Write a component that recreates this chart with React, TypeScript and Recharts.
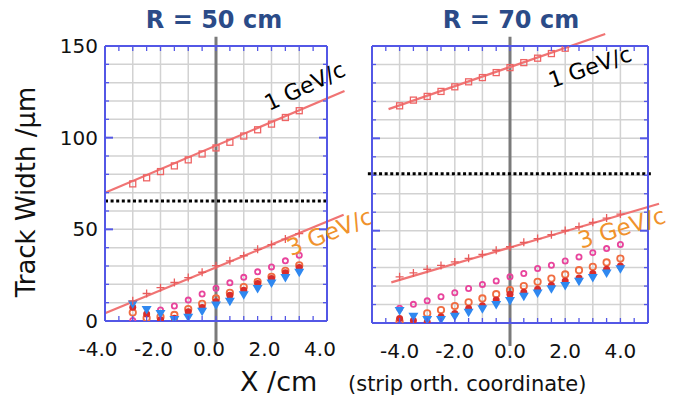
import React from 'react';
import {
  ScatterChart,
  Scatter,
  XAxis,
  YAxis,
  CartesianGrid,
  ReferenceLine,
  ReferenceDot
} from 'recharts';

// strip orth. coordinate (cm), one point every 0.5 cm
const xLeft = [-3, -2.5, -2, -1.5, -1, -0.5, 0, 0.5, 1, 1.5, 2, 2.5, 3];
const xRight = [-4, -3.5, -3, -2.5, -2, -1.5, -1, -0.5, 0, 0.5, 1, 1.5, 2, 2.5, 3, 3.5, 4];
const xRight1GeV = [-4, -3.5, -3, -2.5, -2, -1.5, -1, -0.5, 0, 0.5, 1, 1.5, 2];

// R = 50 cm
const left1GeV = [74.8, 78.1, 81.5, 84.6, 87.9, 91.1, 94.4, 97.5, 100.9, 104.3, 107.4, 111.0, 114.7];
const left3GeV = [11.0, 15.0, 18.2, 21.0, 23.7, 26.6, 30.2, 32.8, 35.6, 39.1, 41.7, 44.7, 47.7];
const leftPink = [0.3, null, 6.0, 8.2, 11.4, 14.7, 17.9, 20.8, 23.8, 26.8, 29.5, 32.8, 35.9];
const leftOrange = [4.6, 1.6, 2.2, 3.3, 6.5, 9.4, 12.3, 15.4, 18.5, 21.4, 24.1, 27.4, 30.4];
const leftRed = [7.5, 3.8, 0.7, 1.5, 5.1, 7.4, 10.5, 14.1, 16.8, 20.5, 23.2, 26.3, 29.2];
const leftBlue = [9.0, 6.0, 3.8, 0.6, 1.8, 5.1, 8.5, 10.5, 14.1, 17.4, 20.5, 23.5, 26.3];

// R = 70 cm
const right1GeV = [117.6, 120.7, 122.7, 125.4, 127.9, 130.6, 132.9, 135.6, 138.3, 141.0, 143.4, 145.9, 148.8];
const right3GeV = [25.0, 27.1, 29.1, 31.2, 33.1, 35.0, 37.2, 39.4, 41.3, 43.7, 45.7, 47.8, 50.1, 52.2, 54.5, 56.8, 59.0];
const rightPink = [8.0, 10.1, 12.0, 14.2, 16.4, 18.7, 20.9, 22.8, 25.0, 26.8, 29.5, 31.3, 33.6, 35.8, 38.1, 40.3, 42.5];
const rightOrange = [0.7, null, 5.2, 7.0, 9.2, 11.2, 13.3, 15.6, 17.8, 20.0, 22.3, 24.1, 26.3, 28.6, 30.4, 32.8, 34.9];
const rightRed = [2.5, 1.3, 0.6, 3.4, 5.2, 7.8, 9.3, 12.5, 15.6, 16.6, 18.3, 20.5, 22.7, 24.4, 26.8, 29.1, 30.9];
const rightBlue = [6.5, 3.4, 1.6, 1.6, 3.4, 5.6, 7.4, 9.7, 11.9, 14.2, 16.0, 18.3, 20.1, 22.3, 24.4, 26.8, 29.1];

// straight-line fits (end points)
const leftFit1 = [{ x: -4, y: 69.9 }, { x: 4.63, y: 125.5 }];
const leftFit3 = [{ x: -4, y: 4.2 }, { x: 4.6, y: 58 }];
const rightFit1 = [{ x: -4.4, y: 115.8 }, { x: 3.45, y: 156.5 }];
const rightFit3 = [{ x: -4.3, y: 22 }, { x: 5.4, y: 64.6 }];

// dotted threshold levels
const leftLevel = 65.4;
const rightLevel = 80.8;

// ticks
const xTickLabels = [-4, -2, 0, 2, 4];
const yTickLabels = [0, 50, 100, 150];
const yMajor = [50, 100];
const yMinor = [0, 10, 20, 30, 40, 50, 60, 70, 80, 90, 100, 110, 120, 130, 140, 150];
const leftGridX = [-3, -2, -1, 0, 1, 2, 3];
const rightGridX = [-4, -3, -2, -1, 0, 1, 2, 3, 4];
const leftMinorX = [-3.5, -3, -2.5, -2, -1.5, -1, -0.5, 0, 0.5, 1, 1.5, 2, 2.5, 3, 3.5];
const rightMinorX = [-4.5, -4, -3.5, -3, -2.5, -2, -1.5, -1, -0.5, 0, 0.5, 1, 1.5, 2, 2.5, 3, 3.5, 4, 4.5];
const leftBottomTicks = [-4, ...leftMinorX, 4];
const rightBottomTicks = [-5, ...rightMinorX, 5];

const toPts = (xs: number[], ys: (number | null)[]) =>
  xs.map((x, i) => ({ x, y: ys[i] })).filter((p) => p.y != null);

const FIT = '#f07474';
const FRAME = '#5357e6';
const FONT = '"DejaVu Sans", Verdana, sans-serif';

const Square = (p: any) => (
  <rect x={p.cx - 3} y={p.cy - 3} width={6} height={6} fill="none" stroke="#ee6464" strokeWidth={1.3} />
);
const Plus = (p: any) => (
  <path d={`M${p.cx - 4},${p.cy}H${p.cx + 4}M${p.cx},${p.cy - 4}V${p.cy + 4}`} stroke="#e85c5c" strokeWidth={1.3} />
);
const ring = (color: string, r: number) => (p: any) => (
  <circle cx={p.cx} cy={p.cy} r={r} fill="none" stroke={color} strokeWidth={1.8} />
);
const RedDot = (p: any) => <circle cx={p.cx} cy={p.cy} r={3.5} fill="#d82c2c" />;
const DownTri = (p: any) => (
  <path d={`M${p.cx - 5},${p.cy - 4}L${p.cx + 5},${p.cy - 4}L${p.cx},${p.cy + 4.5}Z`} fill="#2f88f0" />
);

const rotText = (text: string, color: string, angle: number, size: number) => (p: any) => (
  <text
    x={p.cx}
    y={p.cy}
    transform={`rotate(${angle} ${p.cx} ${p.cy})`}
    textAnchor="middle"
    dominantBaseline="central"
    fill={color}
    fontSize={size}
    fontFamily={FONT}
  >
    {text}
  </text>
);

// tick renderers: inward blue tick marks, labels only where wanted
const bottomTick = (labels: number[], dx: number) => (props: any) => {
  const { x, y, payload } = props;
  const v = payload.value;
  return (
    <g>
      <line x1={x} x2={x} y1={y} y2={y - 5} stroke={FRAME} strokeWidth={1.3} />
      {labels.includes(v) && (
        <text x={x + dx} y={y + 35} textAnchor="middle" fill="#111" fontSize={20} fontFamily={FONT}>
          {v.toFixed(1)}
        </text>
      )}
    </g>
  );
};
const topTick = (props: any) => {
  const { x, y } = props;
  return <line x1={x} x2={x} y1={y} y2={y + 5} stroke={FRAME} strokeWidth={1.3} />;
};
const leftTick = (labels: number[]) => (props: any) => {
  const { x, y, payload } = props;
  const v = payload.value;
  const major = yMajor.includes(v);
  return (
    <g>
      <line x1={x} x2={x + (major ? 8 : 4)} y1={y} y2={y} stroke={FRAME} strokeWidth={major ? 2 : 1.3} />
      {labels.includes(v) && (
        <text x={x - 7} y={y + 7} textAnchor="end" fill="#111" fontSize={20} fontFamily={FONT}>
          {v}
        </text>
      )}
    </g>
  );
};
const rightTick = (props: any) => {
  const { x, y, payload } = props;
  const major = yMajor.includes(payload.value);
  return <line x1={x} x2={x - (major ? 8 : 4)} y1={y} y2={y} stroke={FRAME} strokeWidth={major ? 2 : 1.3} />;
};

interface PanelProps {
  width: number;
  margin: { top: number; right: number; bottom: number; left: number };
  leftWidth: number;
  domain: [number, number];
  gridX: number[];
  minorX: number[];
  bottomTicks: number[];
  labelDx: number;
  yLabels: number[];
  xs: number[];
  xs1: number[];
  v1: number[];
  v3: number[];
  pink: (number | null)[];
  orange: (number | null)[];
  red: (number | null)[];
  blue: (number | null)[];
  fit1: { x: number; y: number }[];
  fit3: { x: number; y: number }[];
  level: number;
  levelExt: number;
  label1: { x: number; y: number; angle: number };
  label3: { x: number; y: number; angle: number };
}

const Panel = (p: PanelProps) => {
  const frameLine = { stroke: FRAME, strokeWidth: 2 };
  return (
    <ScatterChart width={p.width} height={401} margin={p.margin} style={{ overflow: 'visible' }}>
      <CartesianGrid stroke="#d2d2d2" strokeWidth={1.5} verticalValues={p.gridX} horizontalValues={yMinor} />
      <XAxis
        xAxisId={0}
        dataKey="x"
        type="number"
        domain={p.domain}
        ticks={p.bottomTicks}
        interval={0}
        allowDataOverflow
        height={30}
        axisLine={frameLine}
        tickLine={false}
        tickSize={0}
        tickMargin={0}
        tick={bottomTick(xTickLabels, p.labelDx)}
      />
      <XAxis
        xAxisId="top"
        dataKey="x"
        type="number"
        orientation="top"
        domain={p.domain}
        ticks={p.minorX}
        interval={0}
        allowDataOverflow
        height={1}
        axisLine={frameLine}
        tickLine={false}
        tickSize={0}
        tickMargin={0}
        tick={topTick}
      />
      <YAxis
        yAxisId={0}
        dataKey="y"
        type="number"
        domain={[0, 150]}
        ticks={yMinor}
        interval={0}
        allowDataOverflow
        width={p.leftWidth}
        axisLine={frameLine}
        tickLine={false}
        tickSize={0}
        tickMargin={0}
        tick={leftTick(p.yLabels)}
      />
      <YAxis
        yAxisId="right"
        dataKey="y"
        type="number"
        orientation="right"
        domain={[0, 150]}
        ticks={yMinor}
        interval={0}
        allowDataOverflow
        width={1}
        axisLine={frameLine}
        tickLine={false}
        tickSize={0}
        tickMargin={0}
        tick={rightTick}
      />

      <ReferenceLine
        segment={[{ x: 0, y: -12.5 }, { x: 0, y: 155 }]}
        ifOverflow="visible"
        stroke="#7a7a7a"
        strokeWidth={3}
      />
      <ReferenceLine
        segment={[{ x: p.domain[0] - p.levelExt, y: p.level }, { x: p.domain[1] + p.levelExt, y: p.level }]}
        ifOverflow="visible"
        stroke="#000"
        strokeWidth={3}
        strokeDasharray="3 2.6"
      />
      <ReferenceLine segment={p.fit1} ifOverflow="visible" stroke={FIT} strokeWidth={2.2} />
      <ReferenceLine segment={p.fit3} ifOverflow="visible" stroke={FIT} strokeWidth={2.2} />

      <Scatter data={toPts(p.xs, p.pink)} shape={ring('#e8449c', 2.6)} isAnimationActive={false} />
      <Scatter data={toPts(p.xs, p.orange)} shape={ring('#f06c40', 3.2)} isAnimationActive={false} />
      <Scatter data={toPts(p.xs, p.red)} shape={RedDot} isAnimationActive={false} />
      <Scatter data={toPts(p.xs, p.blue)} shape={DownTri} isAnimationActive={false} />
      <Scatter data={toPts(p.xs, p.v3)} shape={Plus} isAnimationActive={false} />
      <Scatter data={toPts(p.xs1, p.v1)} shape={Square} isAnimationActive={false} />

      <ReferenceDot x={p.label1.x} y={p.label1.y} ifOverflow="visible" shape={rotText('1 GeV/c', '#000', p.label1.angle, 22)} />
      <ReferenceDot x={p.label3.x} y={p.label3.y} ifOverflow="visible" shape={rotText('3 GeV/c', '#f0922c', p.label3.angle, 23)} />
    </ScatterChart>
  );
};

const titleStyle: React.CSSProperties = {
  position: 'absolute',
  top: 6,
  transform: 'translateX(-50%)',
  fontSize: 24,
  fontWeight: 'bold',
  color: '#2b4b88',
  fontFamily: FONT,
  whiteSpace: 'nowrap'
};

export default function App() {
  return (
    <div style={{ position: 'relative', width: 679, height: 401, background: '#fff', overflow: 'hidden' }}>
      <style>{'body{margin:0}'}</style>
      <div style={{ position: 'absolute', left: 0, top: 0 }}>
        <Panel
          width={380}
          margin={{ top: 45, right: 52, bottom: 50, left: 50 }}
          leftWidth={55}
          domain={[-4, 4]}
          gridX={leftGridX}
          minorX={leftMinorX}
          bottomTicks={leftBottomTicks}
          labelDx={-7}
          yLabels={yTickLabels}
          xs={xLeft}
          xs1={xLeft}
          v1={left1GeV}
          v3={left3GeV}
          pink={leftPink}
          orange={leftOrange}
          red={leftRed}
          blue={leftBlue}
          fit1={leftFit1}
          fit3={leftFit3}
          level={leftLevel}
          levelExt={0}
          label1={{ x: 3.2, y: 128, angle: -25 }}
          label3={{ x: 4.1, y: 48.5, angle: -22 }}
        />
      </div>
      <div style={{ position: 'absolute', left: 360, top: 0 }}>
        <Panel
          width={319}
          margin={{ top: 45, right: 30, bottom: 48, left: 0 }}
          leftWidth={12}
          domain={[-5, 5]}
          gridX={rightGridX}
          minorX={rightMinorX}
          bottomTicks={rightBottomTicks}
          labelDx={0}
          yLabels={[]}
          xs={xRight}
          xs1={xRight1GeV}
          v1={right1GeV}
          v3={right3GeV}
          pink={rightPink}
          orange={rightOrange}
          red={rightRed}
          blue={rightBlue}
          fit1={rightFit1}
          fit3={rightFit3}
          level={rightLevel}
          levelExt={0.15}
          label1={{ x: 2.9, y: 138.5, angle: -19 }}
          label3={{ x: 4.05, y: 51.5, angle: -17 }}
        />
      </div>

      <div style={{ ...titleStyle, left: 214 }}>R = 50 cm</div>
      <div style={{ ...titleStyle, left: 511 }}>R = 70 cm</div>

      <div
        style={{
          position: 'absolute',
          left: 26,
          top: 192,
          transform: 'translate(-50%, -50%) rotate(-90deg)',
          fontSize: 26,
          fontFamily: FONT,
          color: '#111',
          whiteSpace: 'nowrap'
        }}
      >
        Track Width /μm
      </div>
      <div style={{ position: 'absolute', left: 240, top: 366, fontSize: 27, fontFamily: FONT, color: '#111' }}>
        X /cm
      </div>
      <div style={{ position: 'absolute', left: 348, top: 372, fontSize: 21, fontFamily: FONT, color: '#111', whiteSpace: 'nowrap' }}>
        (strip orth. coordinate)
      </div>
    </div>
  );
}
